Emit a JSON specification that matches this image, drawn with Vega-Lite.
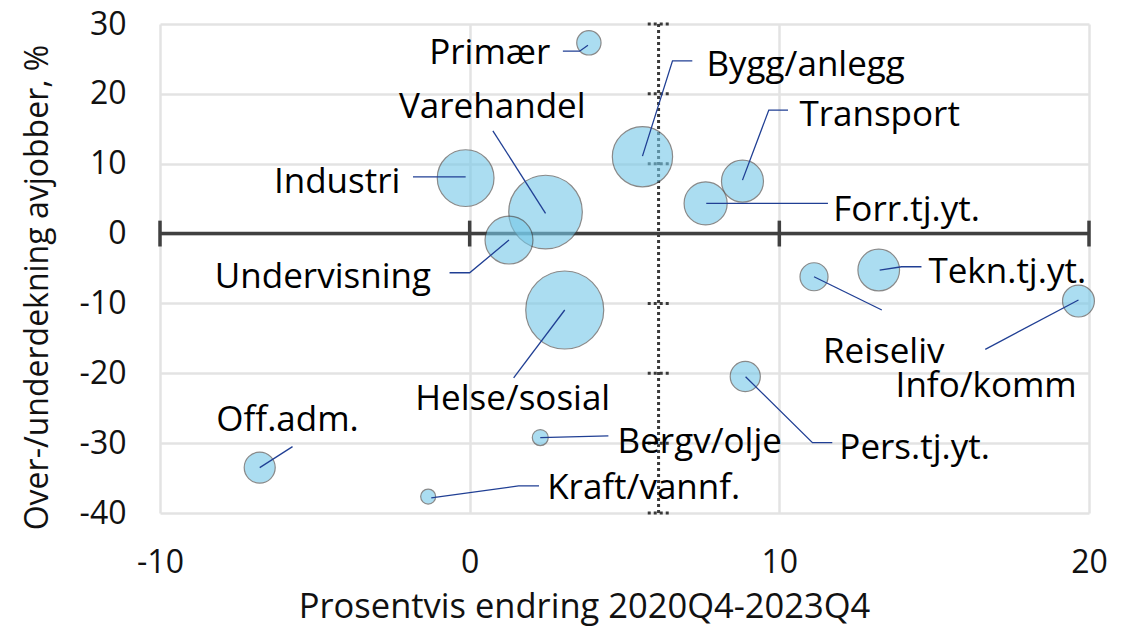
{
  "$schema": "https://vega.github.io/schema/vega-lite/v6.json",
  "width": 929,
  "height": 489,
  "autosize": "none",
  "padding": {"left": 160, "top": 24, "right": 45, "bottom": 114},
  "background": "white",
  "config": {
    "view": {"stroke": null},
    "font": "Open Sans",
    "axis": {
      "grid": true,
      "gridColor": "#E3E3E3",
      "gridWidth": 2.5,
      "domain": false,
      "ticks": false,
      "labelFont": "Open Sans",
      "labelFontSize": 32,
      "labelColor": "#111111",
      "labelExpr": "'' + datum.value",
      "labelFlush": false,
      "labelOverlap": false,
      "titleFont": "Open Sans",
      "titleFontWeight": "normal",
      "titleColor": "#111111"
    }
  },
  "datasets": {
    "bubbles": [
      {"bransje": "Primær", "endring": 3.85, "dekning": 27.3, "storrelse": 9.7, "lx": 0.65, "ly": 25.8},
      {"bransje": "Bygg/anlegg", "endring": 5.58, "dekning": 11.0, "storrelse": 59.7, "lx": 10.85, "ly": 24.1},
      {"bransje": "Transport", "endring": 8.81, "dekning": 7.5, "storrelse": 29, "lx": 13.24, "ly": 16.95},
      {"bransje": "Forr.tj.yt.", "endring": 7.62, "dekning": 4.32, "storrelse": 30.5, "lx": 14.11, "ly": 3.36},
      {"bransje": "Industri", "endring": -0.13, "dekning": 7.94, "storrelse": 52.9, "lx": -4.28, "ly": 7.41},
      {"bransje": "Varehandel", "endring": 2.45, "dekning": 3.08, "storrelse": 89, "lx": 0.73, "ly": 18.14},
      {"bransje": "Undervisning", "endring": 1.27, "dekning": -0.93, "storrelse": 37.7, "lx": -4.74, "ly": -6.18},
      {"bransje": "Helse/sosial", "endring": 3.07, "dekning": -10.94, "storrelse": 100, "lx": 1.39, "ly": -23.68},
      {"bransje": "Reiseliv", "endring": 11.12, "dekning": -6.18, "storrelse": 12.9, "lx": 13.37, "ly": -16.9},
      {"bransje": "Tekn.tj.yt.", "endring": 13.21, "dekning": -5.22, "storrelse": 28.5, "lx": 17.36, "ly": -5.46},
      {"bransje": "Info/komm", "endring": 19.66, "dekning": -9.66, "storrelse": 16.7, "lx": 16.68, "ly": -21.8},
      {"bransje": "Pers.tj.yt.", "endring": 8.9, "dekning": -20.46, "storrelse": 14.9, "lx": 14.37, "ly": -30.69},
      {"bransje": "Off.adm.", "endring": -6.78, "dekning": -33.5, "storrelse": 15.8, "lx": -5.88, "ly": -26.68},
      {"bransje": "Bergv/olje", "endring": 2.28, "dekning": -29.2, "storrelse": 4.2, "lx": 7.43, "ly": -29.79},
      {"bransje": "Kraft/vannf.", "endring": -1.34, "dekning": -37.65, "storrelse": 3.7, "lx": 5.62, "ly": -36.41}
    ],
    "leaders": [
      {"bransje": "Primær", "seq": 1, "px": 3.82, "py": 26.97},
      {"bransje": "Primær", "seq": 2, "px": 3.55, "py": 26.11},
      {"bransje": "Primær", "seq": 3, "px": 3.01, "py": 26.11},
      {"bransje": "Bygg/anlegg", "seq": 1, "px": 5.58, "py": 11.09},
      {"bransje": "Bygg/anlegg", "seq": 2, "px": 6.55, "py": 24.72},
      {"bransje": "Bygg/anlegg", "seq": 3, "px": 7.19, "py": 24.72},
      {"bransje": "Transport", "seq": 1, "px": 8.81, "py": 7.65},
      {"bransje": "Transport", "seq": 2, "px": 9.66, "py": 17.67},
      {"bransje": "Transport", "seq": 3, "px": 10.28, "py": 17.67},
      {"bransje": "Forr.tj.yt.", "seq": 1, "px": 7.64, "py": 4.32},
      {"bransje": "Forr.tj.yt.", "seq": 2, "px": 11.57, "py": 4.32},
      {"bransje": "Industri", "seq": 1, "px": -0.13, "py": 8.13},
      {"bransje": "Industri", "seq": 2, "px": -1.83, "py": 8.13},
      {"bransje": "Varehandel", "seq": 1, "px": 2.45, "py": 2.89},
      {"bransje": "Varehandel", "seq": 2, "px": 0.75, "py": 14.71},
      {"bransje": "Undervisning", "seq": 1, "px": 1.27, "py": -0.93},
      {"bransje": "Undervisning", "seq": 2, "px": 0.0, "py": -5.61},
      {"bransje": "Undervisning", "seq": 3, "px": -0.65, "py": -5.61},
      {"bransje": "Helse/sosial", "seq": 1, "px": 3.07, "py": -10.94},
      {"bransje": "Helse/sosial", "seq": 2, "px": 1.42, "py": -20.67},
      {"bransje": "Off.adm.", "seq": 1, "px": -6.78, "py": -33.5},
      {"bransje": "Off.adm.", "seq": 2, "px": -5.72, "py": -30.5},
      {"bransje": "Bergv/olje", "seq": 1, "px": 2.28, "py": -29.21},
      {"bransje": "Bergv/olje", "seq": 2, "px": 4.48, "py": -28.97},
      {"bransje": "Kraft/vannf.", "seq": 1, "px": -1.24, "py": -37.84},
      {"bransje": "Kraft/vannf.", "seq": 2, "px": 1.58, "py": -36.12},
      {"bransje": "Kraft/vannf.", "seq": 3, "px": 2.24, "py": -36.12},
      {"bransje": "Pers.tj.yt.", "seq": 1, "px": 8.91, "py": -20.49},
      {"bransje": "Pers.tj.yt.", "seq": 2, "px": 11.07, "py": -29.93},
      {"bransje": "Pers.tj.yt.", "seq": 3, "px": 11.71, "py": -29.93},
      {"bransje": "Reiseliv", "seq": 1, "px": 11.12, "py": -6.18},
      {"bransje": "Reiseliv", "seq": 2, "px": 13.31, "py": -10.94},
      {"bransje": "Tekn.tj.yt.", "seq": 1, "px": 13.24, "py": -5.22},
      {"bransje": "Tekn.tj.yt.", "seq": 2, "px": 13.95, "py": -4.75},
      {"bransje": "Tekn.tj.yt.", "seq": 3, "px": 14.59, "py": -4.75},
      {"bransje": "Info/komm", "seq": 1, "px": 19.66, "py": -9.51},
      {"bransje": "Info/komm", "seq": 2, "px": 16.65, "py": -16.57}
    ],
    "snitt": [
      {"x": 6.1, "y": -40, "y2": 30}
    ],
    "snittmerker": [
      {"x1": 5.75, "x2": 6.45, "y": 30},
      {"x1": 5.75, "x2": 6.45, "y": 20},
      {"x1": 5.75, "x2": 6.45, "y": 10},
      {"x1": 5.75, "x2": 6.45, "y": 0},
      {"x1": 5.75, "x2": 6.45, "y": -10},
      {"x1": 5.75, "x2": 6.45, "y": -20},
      {"x1": 5.75, "x2": 6.45, "y": -30},
      {"x1": 5.75, "x2": 6.45, "y": -40}
    ],
    "akse": [
      {"x1": -10, "x2": 20, "y": 0}
    ],
    "aksemerker": [
      {"x": -10, "y1": -1.85, "y2": 1.85},
      {"x": 0, "y1": -1.85, "y2": 1.85},
      {"x": 10, "y1": -1.85, "y2": 1.85},
      {"x": 20, "y1": -1.85, "y2": 1.85}
    ]
  },
  "layer": [
    {
      "data": {"name": "snitt"},
      "mark": {"type": "rule", "color": "#3A3A3A", "strokeWidth": 3, "strokeDash": [3, 3]},
      "encoding": {
        "x": {"field": "x", "type": "quantitative", "scale": {"domain": [-10, 20], "nice": false, "zero": false},
          "axis": {"values": [-10, 0, 10, 20], "title": "Prosentvis endring 2020Q4-2023Q4", "titleFontSize": 34.5, "labelPadding": 34, "titlePadding": 12, "titleX": 424}},
        "y": {"field": "y", "type": "quantitative", "scale": {"domain": [-40, 30], "nice": false, "zero": false},
          "axis": {"values": [-40, -30, -20, -10, 0, 10, 20, 30], "title": "Over-/underdekning avjobber, %", "titleFontSize": 32, "labelPadding": 34, "titleX": -123, "titleY": 263, "titleAlign": "center", "titleBaseline": "middle", "titleAngle": -90}},
        "y2": {"field": "y2"}
      }
    },
    {
      "data": {"name": "snittmerker"},
      "mark": {"type": "rule", "color": "#3A3A3A", "strokeWidth": 3, "strokeDash": [3, 3]},
      "encoding": {
        "x": {"field": "x1", "type": "quantitative"},
        "x2": {"field": "x2"},
        "y": {"field": "y", "type": "quantitative"}
      }
    },
    {
      "data": {"name": "akse"},
      "mark": {"type": "rule", "color": "#404040", "strokeWidth": 3.5},
      "encoding": {
        "x": {"field": "x1", "type": "quantitative"},
        "x2": {"field": "x2"},
        "y": {"field": "y", "type": "quantitative"}
      }
    },
    {
      "data": {"name": "aksemerker"},
      "mark": {"type": "rule", "color": "#404040", "strokeWidth": 3.5},
      "encoding": {
        "x": {"field": "x", "type": "quantitative"},
        "y": {"field": "y1", "type": "quantitative"},
        "y2": {"field": "y2"}
      }
    },
    {
      "data": {"name": "bubbles"},
      "mark": {"type": "circle", "color": "#75C8E8", "opacity": 0.6, "stroke": "#3C3C3C", "strokeWidth": 1.2, "strokeOpacity": 1},
      "encoding": {
        "x": {"field": "endring", "type": "quantitative"},
        "y": {"field": "dekning", "type": "quantitative"},
        "size": {"field": "storrelse", "type": "quantitative", "scale": {"type": "linear", "domain": [0, 100], "range": [0, 6082], "zero": true}, "legend": null}
      }
    },
    {
      "data": {"name": "leaders"},
      "mark": {"type": "line", "color": "#203F94", "strokeWidth": 1.3},
      "encoding": {
        "x": {"field": "px", "type": "quantitative"},
        "y": {"field": "py", "type": "quantitative"},
        "detail": {"field": "bransje", "type": "nominal"},
        "order": {"field": "seq", "type": "quantitative"}
      }
    },
    {
      "data": {"name": "bubbles"},
      "mark": {"type": "text", "font": "Open Sans", "fontSize": 35, "color": "#000000", "align": "center", "baseline": "middle"},
      "encoding": {
        "x": {"field": "lx", "type": "quantitative"},
        "y": {"field": "ly", "type": "quantitative"},
        "text": {"field": "bransje", "type": "nominal"}
      }
    }
  ]
}
